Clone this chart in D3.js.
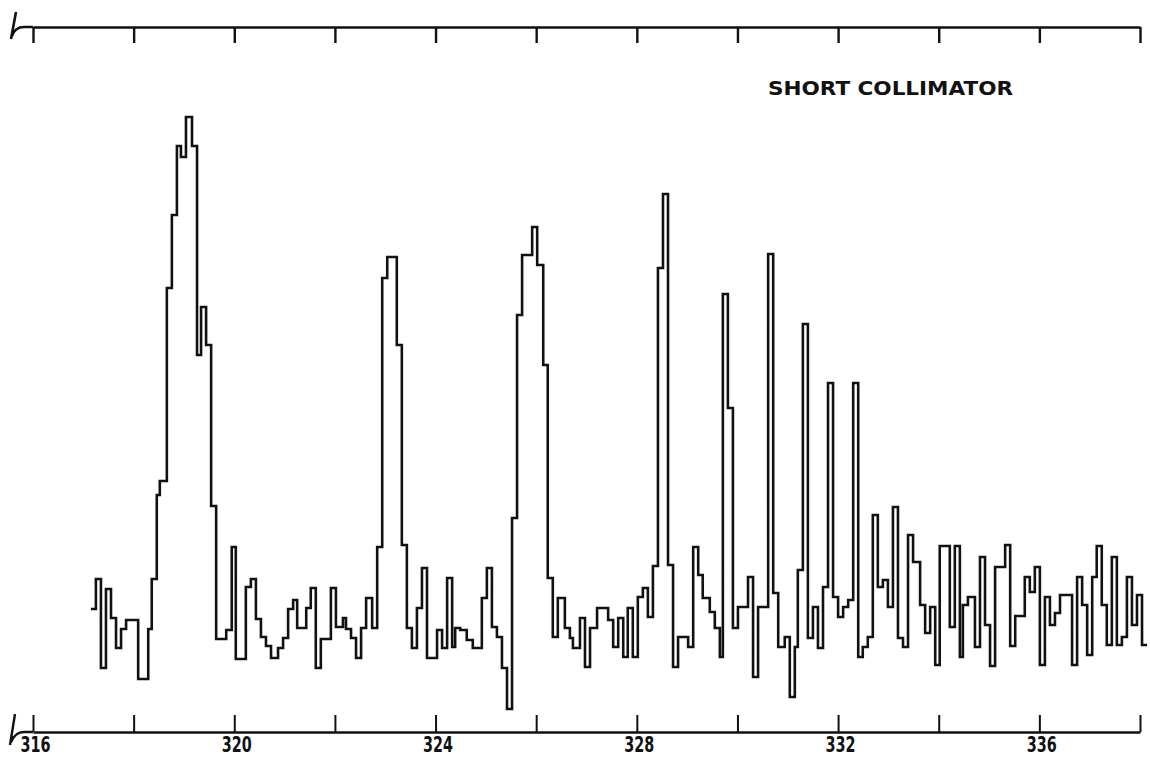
<!DOCTYPE html>
<html>
<head>
<meta charset="utf-8">
<script src="https://cdn.jsdelivr.net/npm/d3@7"></script>
<style>
  body { margin: 0; background: #fff; }
  .axis path, .axis line { stroke: #111; }
  .axis text { font-family: "DejaVu Sans", sans-serif; font-weight: bold; fill: #111; }
</style>
</head>
<body>
<div class="spectrum-div"></div>
<script>
// step start (energy) and counts of each step
const stepStart = [
  317.15, 317.25, 317.35, 317.45, 317.55, 317.65, 317.75, 317.85, 318.09, 318.29,
  318.36, 318.46, 318.52, 318.66, 318.76, 318.86, 318.94, 319.04, 319.16, 319.26,
  319.34, 319.44, 319.54, 319.64, 319.84, 319.95, 320.03, 320.23, 320.33, 320.43,
  320.53, 320.63, 320.73, 320.87, 320.97, 321.07, 321.17, 321.25, 321.43, 321.52,
  321.62, 321.72, 321.92, 322.02, 322.16, 322.22, 322.32, 322.42, 322.52, 322.62,
  322.74, 322.84, 322.94, 323.04, 323.23, 323.33, 323.43, 323.53, 323.63, 323.73,
  323.83, 324.03, 324.13, 324.23, 324.33, 324.39, 324.49, 324.62, 324.74, 324.92,
  325.02, 325.12, 325.22, 325.32, 325.42, 325.52, 325.62, 325.72, 325.92, 326.02,
  326.14, 326.23, 326.33, 326.43, 326.57, 326.67, 326.73, 326.87, 326.97, 327.07,
  327.21, 327.43, 327.53, 327.63, 327.73, 327.82, 327.92, 328.02, 328.12, 328.22,
  328.32, 328.42, 328.52, 328.62, 328.72, 328.82, 329.02, 329.12, 329.22, 329.31,
  329.45, 329.55, 329.65, 329.71, 329.81, 329.91, 330.01, 330.21, 330.31, 330.41,
  330.61, 330.71, 330.81, 330.94, 331.04, 331.14, 331.20, 331.30, 331.40, 331.50,
  331.60, 331.70, 331.80, 331.90, 332.00, 332.10, 332.20, 332.30, 332.40, 332.49,
  332.59, 332.69, 332.79, 332.89, 332.99, 333.09, 333.19, 333.29, 333.39, 333.49,
  333.63, 333.73, 333.83, 333.93, 334.02, 334.22, 334.32, 334.42, 334.48, 334.58,
  334.72, 334.82, 334.92, 335.02, 335.12, 335.32, 335.42, 335.52, 335.71, 335.81,
  335.91, 336.01, 336.11, 336.21, 336.31, 336.41, 336.65, 336.75, 336.85, 336.95,
  337.05, 337.14, 337.24, 337.34, 337.44, 337.54, 337.64, 337.74, 337.84, 337.94,
  338.04
];
const stepEnd = 338.14;

const counts = [
  122, 152, 63, 142, 113, 83, 102, 111, 52, 102,
  152, 236, 250, 443, 516, 585, 574, 614, 585, 376,
  424, 386, 225, 92, 101, 184, 72, 144, 152, 112,
  94, 85, 73, 83, 93, 122, 131, 103, 123, 143,
  63, 92, 143, 104, 113, 102, 93, 73, 103, 133,
  103, 184, 453, 474, 386, 186, 103, 83, 123, 163,
  73, 101, 83, 153, 84, 103, 101, 91, 83, 133,
  163, 104, 94, 63, 22, 213, 416, 476, 504, 466,
  366, 153, 94, 133, 103, 93, 83, 113, 64, 103,
  123, 111, 84, 113, 74, 123, 74, 134, 143, 114,
  165, 463, 537, 166, 64, 94, 84, 184, 156, 133,
  119, 103, 74, 437, 323, 103, 124, 154, 54, 124,
  477, 138, 84, 94, 34, 84, 161, 407, 93, 124,
  83, 144, 348, 134, 114, 124, 131, 348, 74, 84,
  94, 216, 144, 151, 124, 224, 93, 84, 196, 169,
  126, 98, 124, 66, 185, 104, 185, 74, 126, 134,
  84, 174, 106, 65, 164, 186, 85, 115, 154, 139,
  164, 66, 134, 106, 118, 136, 66, 154, 126, 76,
  154, 185, 126, 86, 174, 86, 94, 154, 106, 136,
  86
];

const tickValues = [316, 318, 320, 322, 324, 326, 328, 330, 332, 334, 336, 338];
const labelValues = [316, 320, 324, 328, 332, 336];
const title = 'SHORT COLLIMATOR';

let width = 1150;
let height = 757;

let svg = d3.select(".spectrum-div").append("svg")
  .attr("width", width)
  .attr("height", height)
  .style("display", "block");

let x = d3.scaleLinear()
  .domain([316, 338])
  .range([33, 1140]);

let y = d3.scaleLinear()
  .domain([0, 710])
  .range([731, 21]);

const topY = 27;
const bottomY = 732;

// top frame axis, ticks hanging down, no labels
let topAxis = d3.axisTop(x)
  .tickValues(tickValues)
  .tickSizeInner(-16)
  .tickSizeOuter(0)
  .tickFormat('');

svg.append('g')
  .attr('class', 'axis topAxis')
  .attr('transform', `translate(0, ${topY})`)
  .call(topAxis)
  .call(g => g.select('.domain').attr('stroke-width', 2.6))
  .call(g => g.selectAll('.tick line').attr('stroke-width', 2.4));

// bottom axis, ticks pointing up, every other one labelled
let bottomAxis = d3.axisBottom(x)
  .tickValues(tickValues)
  .tickSizeInner(-17)
  .tickSizeOuter(0)
  .tickPadding(5)
  .tickFormat(d => labelValues.includes(d) ? d : '');

svg.append('g')
  .attr('class', 'axis bottomAxis')
  .attr('transform', `translate(0, ${bottomY})`)
  .call(bottomAxis)
  .call(g => g.select('.domain').attr('stroke-width', 2.4))
  .call(g => g.selectAll('.tick line').attr('stroke-width', 2))
  .call(g => g.selectAll('.tick text')
    .attr('x', 2)
    .style('font-size', '21px')
    .attr('textLength', d => labelValues.includes(d) ? 30 : null)
    .attr('lengthAdjust', 'spacingAndGlyphs'));

// axis break marks on the left ends
svg.append('path')
  .attr('d', `M16,12 L11,39 M12,36 Q15,${topY} 24,${topY} L33,${topY}`)
  .attr('fill', 'none')
  .attr('stroke', '#111')
  .attr('stroke-width', 2.6);

svg.append('path')
  .attr('d', `M15,714 L10,745 M11,742 Q15,${bottomY} 24,${bottomY} L33,${bottomY}`)
  .attr('fill', 'none')
  .attr('stroke', '#111')
  .attr('stroke-width', 2.4);

let points = stepStart.map((d, i) => [d, counts[i]]);
points.push([stepEnd, counts[counts.length - 1]]);

let line = d3.line()
  .x(d => x(d[0]))
  .y(d => y(d[1]))
  .curve(d3.curveStepAfter);

svg.append('path')
  .datum(points)
  .attr('class', 'spectrum')
  .attr('d', line)
  .attr('fill', 'none')
  .attr('stroke', '#111')
  .attr('stroke-width', 2.6)
  .attr('stroke-linejoin', 'miter');

svg.append('text')
  .attr('x', 768)
  .attr('y', 95)
  .attr('textLength', 245)
  .attr('lengthAdjust', 'spacingAndGlyphs')
  .style('font-family', '"DejaVu Sans", sans-serif')
  .style('font-weight', 'bold')
  .style('font-size', '20px')
  .style('fill', '#111')
  .text(title);
</script>
</body>
</html>
